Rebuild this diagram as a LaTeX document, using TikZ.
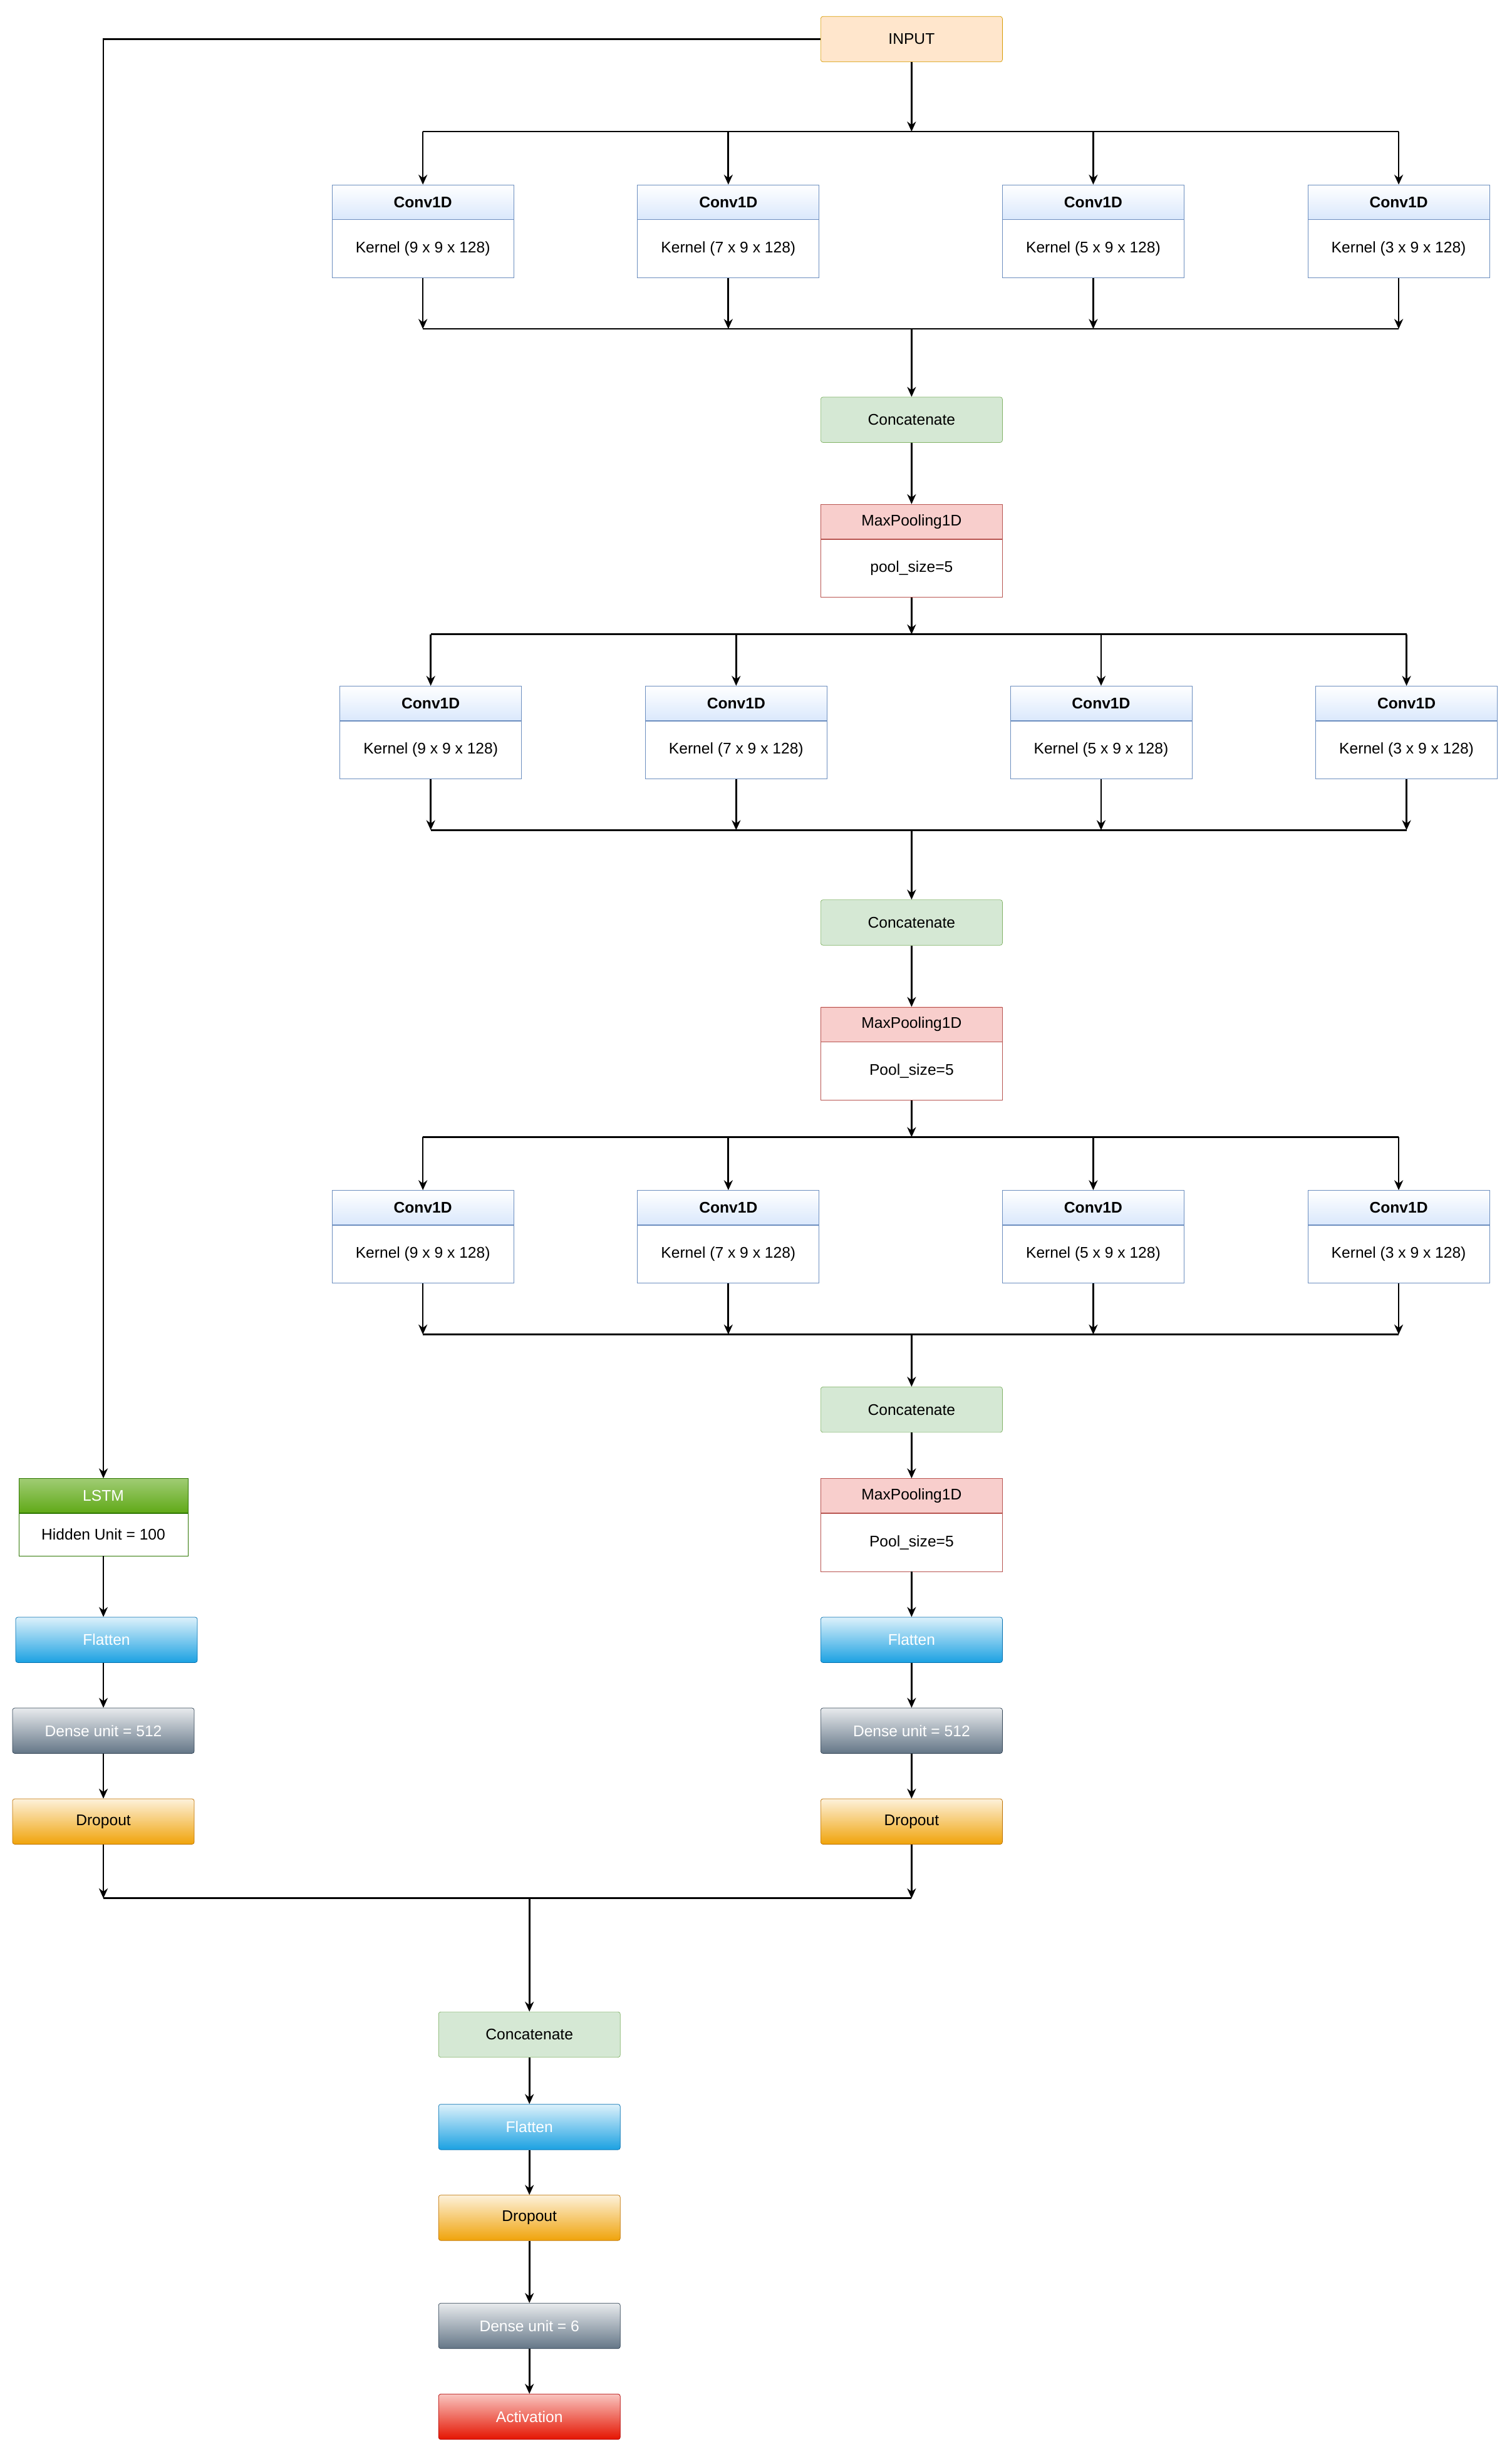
\documentclass[tikz,border=0pt]{standalone}
\usepackage{fontspec}
\setmainfont{Liberation Sans}
\usetikzlibrary{positioning,arrows.meta}

\definecolor{inbg}{HTML}{FFE6CC}\definecolor{inbd}{HTML}{D79B00}
\definecolor{cvbg}{HTML}{DAE8FC}\definecolor{cvbd}{HTML}{6C8EBF}
\definecolor{ccbg}{HTML}{D5E8D4}\definecolor{ccbd}{HTML}{82B366}
\definecolor{mpbg}{HTML}{F8CECC}\definecolor{mpbd}{HTML}{B85450}
\definecolor{lsbg}{HTML}{60A917}\definecolor{lsbd}{HTML}{2D7600}
\definecolor{flbg}{HTML}{1BA1E2}\definecolor{flbd}{HTML}{006EAF}
\definecolor{dnbg}{HTML}{647687}\definecolor{dnbd}{HTML}{314354}
\definecolor{dobg}{HTML}{F0A30A}\definecolor{dobd}{HTML}{BD7000}
\definecolor{acbg}{HTML}{E51400}\definecolor{acbd}{HTML}{B20000}

\tikzset{
  box/.style={draw, rounded corners=2pt, minimum width=5.8cm, minimum height=1.45cm,
    font=\fontsize{14}{16}\selectfont, inner sep=0pt},
  input/.style={box, fill=inbg, draw=inbd},
  concat/.style={box, fill=ccbg, draw=ccbd},
  convtitle/.style={draw=cvbd, top color=white, bottom color=cvbg, minimum width=5.8cm,
    minimum height=1.1cm, font=\fontsize{14}{16}\selectfont\bfseries, inner sep=0pt},
  convbody/.style={draw=cvbd, fill=white, minimum width=5.8cm, minimum height=1.85cm,
    font=\fontsize{14}{16}\selectfont, inner sep=0pt},
  pooltitle/.style={convtitle, draw=mpbd, top color=mpbg, bottom color=mpbg, font=\fontsize{14}{16}\selectfont},
  poolbody/.style={convbody, draw=mpbd, minimum height=1.85cm},
  flat/.style={box, draw=flbd, top color=flbg!15, bottom color=flbg, text=white},
  dense/.style={box, draw=dnbd, top color=dnbg!15, bottom color=dnbg, text=white},
  drop/.style={box, draw=dobd, top color=dobg!15, bottom color=dobg},
  act/.style={box, draw=acbd, top color=acbg!25, bottom color=acbg, text=white},
  wire/.style={line width=1.5pt},
  arr/.style={wire, -{Stealth[length=9pt,width=8pt]}}
}

\begin{document}
\begin{tikzpicture}[x=0.05cm, y=-0.05cm]
  \useasboundingbox (0,0) rectangle (965,1570);

% input
  \node[input] (in) at (582,25) {INPUT};

% three inception rows
  \foreach \r/\dx/\yt in {1/0/118,2/5/438,3/0/760} {
    \foreach \x/\k [count=\i] in {270/9,465/7,698/5,893/3} {
      \node[convtitle] (t\r\i) at (\x+\dx,\yt+11) {Conv1D};
      \node[convbody, below=0pt of t\r\i] (c\r\i) {Kernel (\k{} x 9 x 128)};
    }
  }

  \node[concat] (cc1) at (582,268) {Concatenate};
  \node[pooltitle] (pt1) at (582,333) {MaxPooling1D};
  \node[poolbody, below=0pt of pt1] (p1) {pool\_size=5};
  \node[concat] (cc2) at (582,589) {Concatenate};
  \node[pooltitle] (pt2) at (582,654) {MaxPooling1D};
  \node[poolbody, below=0pt of pt2] (p2) {Pool\_size=5};
  \node[concat] (cc3) at (582,900) {Concatenate};
  \node[pooltitle] (pt3) at (582,955) {MaxPooling1D};
  \node[poolbody, below=0pt of pt3] (p3) {Pool\_size=5};

% right branch head
  \node[flat]  (fr) at (582,1047) {Flatten};
  \node[dense] (dr) at (582,1105) {Dense unit = 512};
  \node[drop]  (or) at (582,1163) {Dropout};

% left branch
  \node[convtitle, draw=lsbd, top color=lsbg!60, bottom color=lsbg, text=white,
        font=\fontsize{14}{16}\selectfont, minimum width=5.4cm] (lt) at (66,955) {LSTM};
  \node[convbody, draw=lsbd, minimum width=5.4cm, minimum height=1.35cm, below=0pt of lt] (ls) {Hidden Unit = 100};
  \node[flat]  (fl) at (68,1047) {Flatten};
  \node[dense] (dl) at (66,1105) {Dense unit = 512};
  \node[drop]  (ol) at (66,1163) {Dropout};

% merge and head
  \node[concat] (cc4) at (338,1299) {Concatenate};
  \node[flat]   (f4)  at (338,1358) {Flatten};
  \node[drop]   (o4)  at (338,1416) {Dropout};
  \node[dense]  (d4)  at (338,1485) {Dense unit = 6};
  \node[act]    (a4)  at (338,1543) {Activation};

% buses
  \coordinate (s1) at (582,84);  \coordinate (m1) at (582,210);
  \coordinate (s2) at (582,405); \coordinate (m2) at (582,530);
  \coordinate (s3) at (582,726); \coordinate (m3) at (582,852);
  \coordinate (m4) at (338,1212);
  \draw[arr] (in) -- (s1);
  \draw[arr] (p1) -- (s2);
  \draw[arr] (p2) -- (s3);
  \foreach \r/\s/\m/\c in {1/s1/m1/cc1,2/s2/m2/cc2,3/s3/m3/cc3} {
    \draw[wire] (t\r1.north |- \s) -- (t\r4.north |- \s);
    \draw[wire] (c\r1.south |- \m) -- (c\r4.south |- \m);
    \foreach \i in {1,...,4} {
      \draw[arr] (t\r\i.north |- \s) -- (t\r\i);
      \draw[arr] (c\r\i) -- (c\r\i.south |- \m);
    }
    \draw[arr] (\m) -- (\c);
  }
  \draw[arr] (cc1) -- (pt1);
  \draw[arr] (cc2) -- (pt2);
  \draw[arr] (cc3) -- (pt3);
  \draw[arr] (p3) -- (fr);
  \draw[arr] (fr) -- (dr);
  \draw[arr] (dr) -- (or);

  \draw[arr] (in.west) -| (lt);
  \draw[arr, line width=0.8pt] (ls) -- (ls.south |- fl.north);
  \draw[arr, line width=0.8pt] (fl.south -| dl) -- (dl);
  \draw[arr] (dl) -- (ol);

  \draw[wire] (ol.south |- m4) -- (or.south |- m4);
  \draw[arr] (ol) -- (ol.south |- m4);
  \draw[arr] (or) -- (or.south |- m4);
  \draw[arr] (m4) -- (cc4);
  \draw[arr] (cc4) -- (f4);
  \draw[arr] (f4) -- (o4);
  \draw[arr] (o4) -- (d4);
  \draw[arr] (d4) -- (a4);
\end{tikzpicture}
\end{document}
